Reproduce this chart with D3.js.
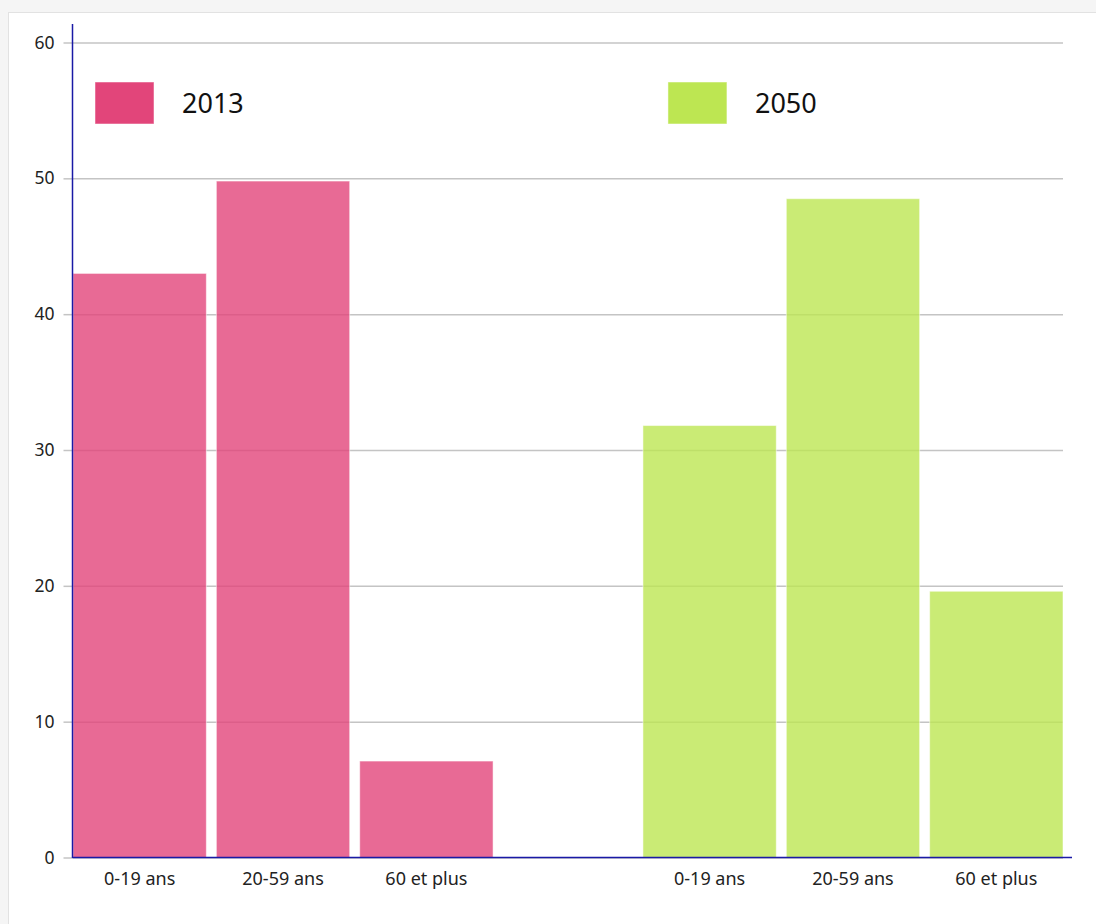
<!DOCTYPE html>
<html>
<head>
<meta charset="utf-8">
<script src="https://cdn.jsdelivr.net/npm/d3@7"></script>
<style>
  body { margin: 0; background: #f5f5f5; font-family: "Noto Sans", "Open Sans", sans-serif; }
  #card { position: absolute; left: 8px; top: 12px; width: 1100px; height: 930px; background: #fff; border: 1px solid #e2e2e2; }
  svg { position: absolute; left: 0; top: 0; }
</style>
</head>
<body>
<div id="card"></div>
<script>
// Age groups shown under each bar
var categories = ["0-19 ans", "20-59 ans", "60 et plus"];
var years = ["2013", "2050"];
// Share of population (%) per age group
var values2013 = [43, 49.8, 7.1];
var values2050 = [31.8, 48.5, 19.6];
var yTicks = [0, 10, 20, 30, 40, 50, 60];
var yearColors = ["#e2457a", "#bde652"];

var width = 1096, height = 924;
var plotLeft = 72.5, plotRight = 1063, plotTop = 42.5, plotBottom = 857.5;

var svg = d3.select("body").append("svg")
  .attr("width", width).attr("height", height);

var y = d3.scaleLinear().domain([0, 60]).range([plotBottom, plotTop]);

var xGroup = d3.scaleBand().domain(years)
  .range([73, 1063]).paddingInner(0.263);

var xCat = d3.scaleBand().domain(categories)
  .range([0, xGroup.bandwidth()]).paddingInner(0.07);

// Gridlines + ticks
var yAxis = d3.axisLeft(y).tickValues(yTicks)
  .tickSize(-(plotRight - plotLeft)).tickSizeOuter(0).tickPadding(18);

var yg = svg.append("g").attr("transform", "translate(" + plotLeft + ",0)").call(yAxis);
yg.select(".domain").remove();
yg.selectAll(".tick line").attr("stroke", "#c4c4c4").attr("stroke-width", 1.5);
yg.selectAll(".tick").append("line")
  .attr("x1", -9).attr("x2", 0).attr("stroke", "#c4c4c4").attr("stroke-width", 1.5);
yg.selectAll(".tick text")
  .attr("font-family", "Noto Sans, Open Sans, sans-serif")
  .attr("font-size", 17.5).attr("fill", "#222");

var series = [values2013, values2050];

years.forEach(function(yr, gi)
{
  var g = svg.append("g").attr("transform", "translate(" + xGroup(yr) + ",0)");
  g.selectAll("rect.bar").data(series[gi]).enter().append("rect")
    .attr("class", "bar")
    .attr("x", function(d, i) { return xCat(categories[i]); })
    .attr("y", function(d) { return y(d); })
    .attr("width", xCat.bandwidth())
    .attr("height", function(d) { return plotBottom - y(d); })
    .attr("fill", yearColors[gi])
    .attr("fill-opacity", 0.8)
    .attr("stroke", "#fff")
    .attr("stroke-opacity", 0.5)
    .attr("stroke-width", 1);

  var xAxis = d3.axisBottom(xCat).tickSize(0).tickPadding(15);
  var xg = g.append("g").attr("transform", "translate(0," + plotBottom + ")").call(xAxis);
  xg.select(".domain").remove();
  xg.selectAll(".tick text")
    .attr("font-family", "Noto Sans, Open Sans, sans-serif")
    .attr("font-size", 18).attr("fill", "#222");

  // Legend
  var lx = xGroup(yr) + 22 + gi * 3;
  svg.append("rect").attr("x", lx).attr("y", 82).attr("width", 59).attr("height", 42)
    .attr("fill", yearColors[gi]).attr("stroke", "#fff").attr("stroke-opacity", 0.5);
  svg.append("text").attr("x", lx + 87).attr("y", 113)
    .attr("font-family", "Noto Sans, Open Sans, sans-serif")
    .attr("font-size", 27).attr("fill", "#111").text(yr);
});

// Axis lines
svg.append("line").attr("x1", plotLeft).attr("x2", plotLeft)
  .attr("y1", 24).attr("y2", plotBottom + 0.5)
  .attr("stroke", "#1a1aa6").attr("stroke-width", 1.5);
svg.append("line").attr("x1", plotLeft).attr("x2", 1072)
  .attr("y1", plotBottom).attr("y2", plotBottom)
  .attr("stroke", "#1a1aa6").attr("stroke-width", 1.5);
</script>
</body>
</html>
